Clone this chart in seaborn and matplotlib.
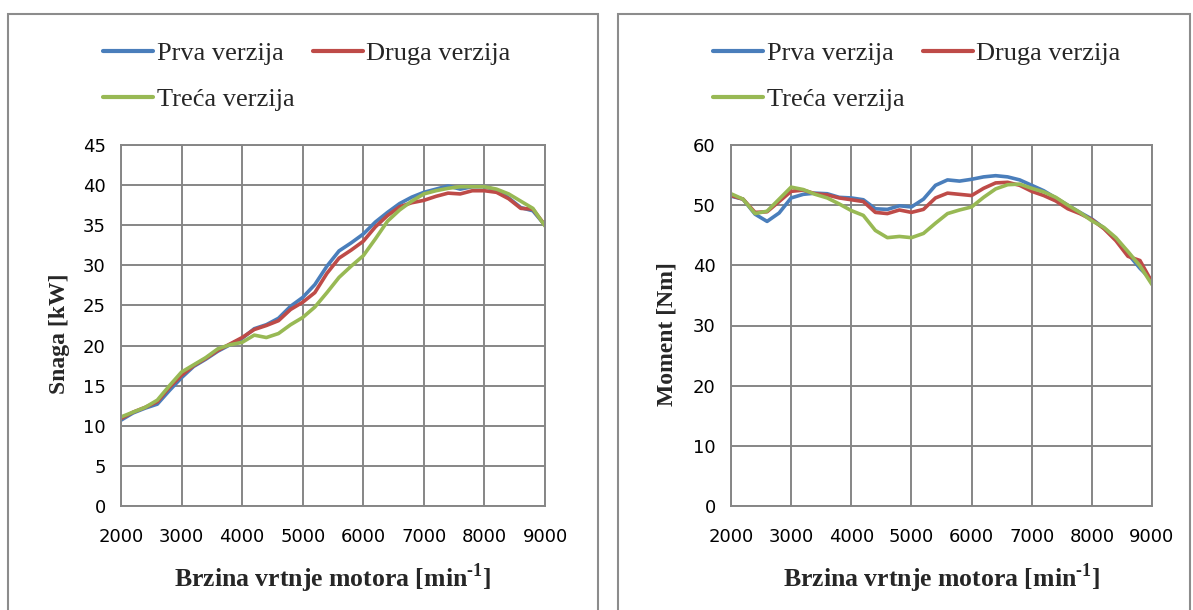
import matplotlib
matplotlib.use("Agg")
import matplotlib.pyplot as plt
from matplotlib.lines import Line2D
from matplotlib.patches import Rectangle
import pandas as pd
import seaborn as sns

# Engine speed samples [min^-1]
rpm = list(range(2000, 9001, 200))

series_names = ["Prva verzija", "Druga verzija", "Treća verzija"]
series_colors = ["#4A7EBB", "#BE4B48", "#98B954"]

# Power [kW]
snaga_prva = [10.7, 11.6, 12.2, 12.7, 14.4, 16.0, 17.4, 18.3, 19.3, 20.1,
              20.9, 22.1, 22.6, 23.4, 24.9, 26.0, 27.6, 29.9, 31.8, 32.8,
              33.9, 35.4, 36.6, 37.7, 38.5, 39.1, 39.5, 39.9, 39.5, 39.8,
              39.8, 39.4, 38.4, 37.2, 36.8, 35.0]
snaga_druga = [10.9, 11.7, 12.3, 13.0, 14.8, 16.3, 17.5, 18.4, 19.4, 20.2,
               21.0, 22.0, 22.5, 23.1, 24.5, 25.4, 26.6, 29.0, 30.9, 31.9,
               33.0, 34.8, 36.2, 37.3, 37.8, 38.1, 38.6, 39.0, 38.9, 39.3,
               39.3, 39.1, 38.3, 37.1, 37.0, 35.0]
snaga_treca = [11.1, 11.7, 12.3, 13.2, 15.0, 16.7, 17.6, 18.5, 19.6, 20.1,
               20.4, 21.3, 21.0, 21.5, 22.6, 23.5, 24.8, 26.6, 28.5, 29.9,
               31.2, 33.3, 35.5, 36.9, 38.0, 38.9, 39.3, 39.6, 39.8, 39.8,
               39.8, 39.5, 38.9, 38.0, 37.1, 34.9]

# Torque [Nm]
moment_prva = [51.5, 51.0, 48.5, 47.3, 48.7, 51.2, 51.8, 52.0, 51.9, 51.3,
               51.2, 50.9, 49.4, 49.3, 49.9, 49.7, 51.0, 53.3, 54.2, 54.0,
               54.3, 54.7, 54.9, 54.7, 54.2, 53.3, 52.4, 51.2, 50.0, 48.8,
               47.7, 46.2, 44.4, 41.9, 39.5, 37.5]
moment_druga = [51.6, 51.0, 48.8, 48.9, 50.6, 52.3, 52.5, 51.9, 51.7, 51.2,
                50.9, 50.6, 48.8, 48.6, 49.2, 48.8, 49.3, 51.2, 52.0, 51.8,
                51.6, 52.8, 53.7, 53.8, 53.3, 52.3, 51.6, 50.7, 49.4, 48.6,
                47.6, 46.1, 44.1, 41.5, 40.8, 37.2]
moment_treca = [51.9, 51.0, 48.6, 49.0, 51.0, 53.0, 52.6, 51.8, 51.2, 50.2,
                49.1, 48.3, 45.8, 44.6, 44.8, 44.6, 45.3, 47.0, 48.6, 49.2,
                49.7, 51.3, 52.7, 53.4, 53.5, 52.8, 52.2, 51.3, 50.0, 48.8,
                47.4, 46.3, 44.6, 42.3, 39.9, 36.8]

x_ticks = list(range(2000, 9001, 1000))
snaga_ticks = list(range(0, 46, 5))
moment_ticks = list(range(0, 61, 10))

x_label = "Brzina vrtnje motora [min$^{\\mathbf{\u2010 1}}$]"
snaga_label = "Snaga [kW]"
moment_label = "Moment [Nm]"


def long_form(values):
    rows = []
    for name, ys in zip(series_names, values):
        for r, v in zip(rpm, ys):
            rows.append({"rpm": r, "value": v, "verzija": name})
    return pd.DataFrame(rows)


df_snaga = long_form([snaga_prva, snaga_druga, snaga_treca])
df_moment = long_form([moment_prva, moment_druga, moment_treca])

sns.set_style("white")
plt.rcParams["font.family"] = ["DejaVu Sans"]
plt.rcParams["mathtext.fontset"] = "custom"
plt.rcParams["mathtext.rm"] = "Liberation Serif"
plt.rcParams["mathtext.bf"] = "Liberation Serif:bold"

W, H = 1193, 610
fig = plt.figure(figsize=(W / 100, H / 100), dpi=100)
fig.patch.set_facecolor("white")

grid_col = "#868686"
frame_col = "#8c8c8c"
serif = ["Liberation Serif", "DejaVu Serif"]

# Outer chart frames
for x0, x1 in [(8, 598), (618, 1190)]:
    fig.add_artist(Rectangle((x0 / W, -0.2), (x1 - x0) / W, (H - 14) / H + 0.2,
                             transform=fig.transFigure, fill=False,
                             edgecolor=frame_col, linewidth=1.5))


def make_axes(x0, x1, df, ylim, yticks, ylabel, ylabel_x):
    ax = fig.add_axes([x0 / W, (H - 506) / H, (x1 - x0) / W, (506 - 145) / H])
    sns.lineplot(data=df, x="rpm", y="value", hue="verzija",
                 hue_order=series_names, palette=series_colors,
                 linewidth=2.6, legend=False, ax=ax)
    ax.set_xlim(2000, 9000)
    ax.set_ylim(*ylim)
    ax.set_xticks(x_ticks)
    ax.set_yticks(yticks)
    ax.grid(True, color=grid_col, linewidth=1.4)
    ax.set_axisbelow(True)
    for sp in ax.spines.values():
        sp.set_color(grid_col)
        sp.set_linewidth(1.4)
    ax.tick_params(axis="both", direction="out", length=5, width=1.3,
                   color=grid_col, labelsize=13, labelcolor="black")
    ax.tick_params(axis="x", pad=11)
    ax.tick_params(axis="y", pad=6)
    ax.set_xlabel("")
    ax.set_ylabel("")
    fig.text((x0 + x1) / 2 / W, 1 - 578 / H, x_label, family=serif,
             fontweight="bold", fontsize=18.5, ha="center", va="center")
    fig.text(ylabel_x / W, 1 - 334 / H, ylabel, family=serif,
             fontweight="bold", fontsize=17, rotation=90,
             ha="center", va="center")

    handles = [Line2D([], [], color=c, linewidth=3.0) for c in series_colors]
    order = [0, 2, 1]
    ax.legend([handles[i] for i in order], [series_names[i] for i in order],
              ncol=2, loc="upper left",
              bbox_to_anchor=((x0 - 18) / W, 1 - 42 / H),
              bbox_transform=fig.transFigure, frameon=False,
              prop={"family": serif, "size": 19}, handlelength=1.9,
              handletextpad=0.13, columnspacing=0.7, labelspacing=0.85,
              borderpad=0, borderaxespad=0)
    return ax


make_axes(121, 545, df_snaga, (0, 45), snaga_ticks, snaga_label, 60)
make_axes(731, 1152, df_moment, (0, 60), moment_ticks, moment_label, 667)

fig.savefig("out.png", dpi=100, facecolor="white")
